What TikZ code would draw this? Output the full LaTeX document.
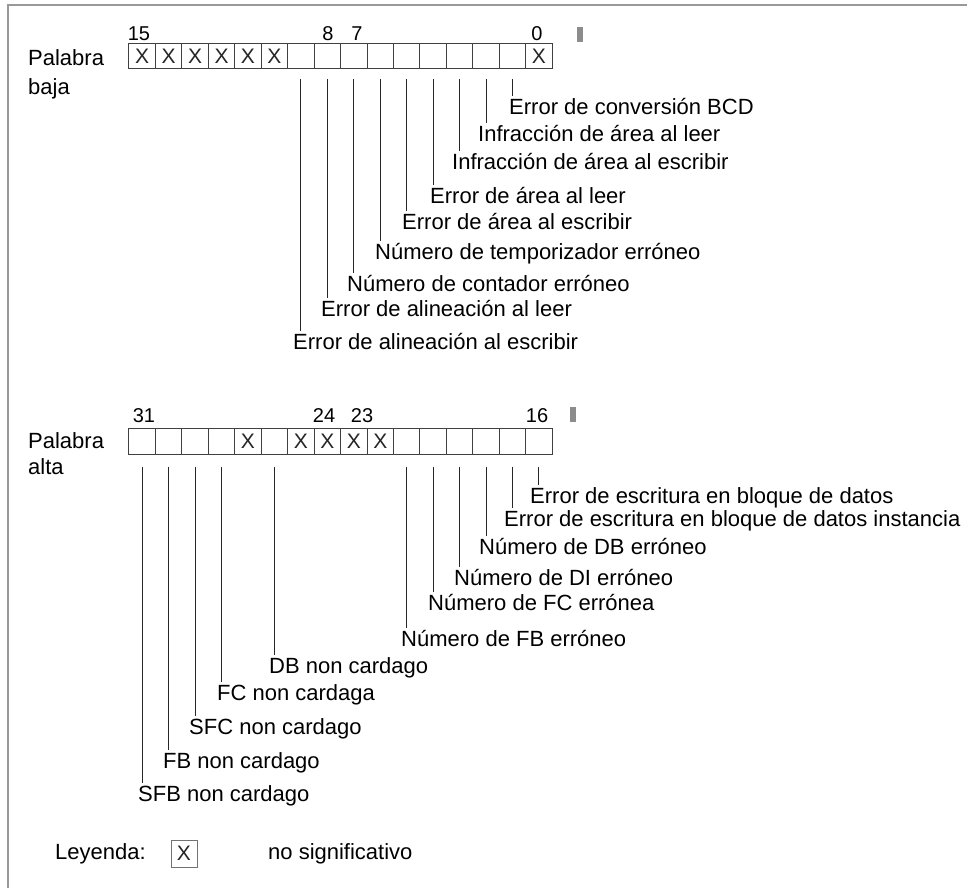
\documentclass[tikz,border=0pt]{standalone}
\usepackage{fontspec}
\setmainfont{Liberation Sans}
\usetikzlibrary{calc}
\begin{document}
\begin{tikzpicture}[x=1pt,y=-1pt,
  txt/.style={inner sep=0pt, font=\fontsize{22}{26}\selectfont, text height=15pt, text depth=4pt, anchor=base west},
  num/.style={inner sep=0pt, font=\fontsize{20}{24}\selectfont},
  cell/.style={draw=black!75, line width=1pt, rectangle, minimum width=26.45pt, minimum height=25pt, inner sep=0pt},
  xm/.style={inner sep=0pt, font=\fontsize{21}{24}\selectfont, text=black!85},
  lead/.style={draw=black!85, line width=1pt},
  markbar/.style={fill=black!45, draw=none, rectangle, minimum width=6pt, minimum height=15pt, inner sep=0pt},
]
\useasboundingbox (0,0) rectangle (967,888);
% frame
\draw[black!40, line width=2pt] (8,888) -- (8,5) -- (967,5);

% ---------- low word ----------
\node[txt] (pb1) at (28,65.5) {Palabra};
\node[txt] (pb2) at (28,94.5) {baja};
\foreach \b [count=\k from 0] in {15,14,...,0}
  \node[cell] (t\b) at ({142.2+26.45*\k},56.5) {};
\foreach \b in {15,14,13,12,11,10,0}
  \node[xm] (xt\b) at (t\b) {X};
\node[num] (n15) at (139,34) {15};
\node[num] (n8) at (328,34) {8};
\node[num] (n7) at (357,34) {7};
\node[num] (n0) at (537,34) {0};
\node[markbar] (mt) at (580,34.5) {};

\foreach \b/\x/\y/\t in {
  1/509/108/{Error de conversión BCD},
  2/478/135/{Infracción de área al leer},
  3/452/163/{Infracción de área al escribir},
  4/430/197/{Error de área al leer},
  5/402/223/{Error de área al escribir},
  6/375/253/{Número de temporizador erróneo},
  7/347/285/{Número de contador erróneo},
  8/321/310/{Error de alineación al leer},
  9/293/343/{Error de alineación al escribir}}{
  \node[txt] (lt\b) at (\x,\y+6.5) {\t};
  \draw[lead] ([yshift=-10pt]t\b.south) -- ($(t\b.south |- lt\b.north)+(0,-3.5)$);
}

% ---------- high word ----------
\node[txt] (pa1) at (28,448.5) {Palabra};
\node[txt] (pa2) at (28,474.5) {alta};
\foreach \b [count=\k from 0] in {31,30,...,16}
  \node[cell, minimum height=26pt] (h\b) at ({142.2+26.45*\k},441) {};
\foreach \b in {27,25,24,23,22}
  \node[xm] (xh\b) at (h\b) {X};
\node[num] (n31) at (144,416) {31};
\node[num] (n24) at (324,416) {24};
\node[num] (n23) at (362,416) {23};
\node[num] (n16) at (537,416) {16};
\node[markbar] (mh) at (572.5,414.5) {};

\foreach \b/\x/\y/\t in {
  16/530/497/{Error de escritura en bloque de datos},
  17/504/520/{Error de escritura en bloque de datos instancia},
  18/479/548/{Número de DB erróneo},
  19/454/579/{Número de DI erróneo},
  20/428/604/{Número de FC errónea},
  21/401/640/{Número de FB erróneo},
  26/269/667/{DB non cardago},
  28/217/694/{FC non cardaga},
  29/189/728/{SFC non cardago},
  30/163/762/{FB non cardago},
  31/138/795/{SFB non cardago}}{
  \node[txt] (lh\b) at (\x,\y+6.5) {\t};
  \draw[lead] ([yshift=-12pt]h\b.south) -- ($(h\b.south |- lh\b.north)+(0,-3.5)$);
}

% ---------- legend ----------
\node[txt] (ley) at (55,859.5) {Leyenda:};
\node[cell, draw=black!55, minimum width=26pt, minimum height=27pt] (lbox) at (184,853.5) {};
\node[xm] (lx) at (lbox) {X};
\node[txt] (ns) at (268,859.5) {no significativo};
\end{tikzpicture}
\end{document}
